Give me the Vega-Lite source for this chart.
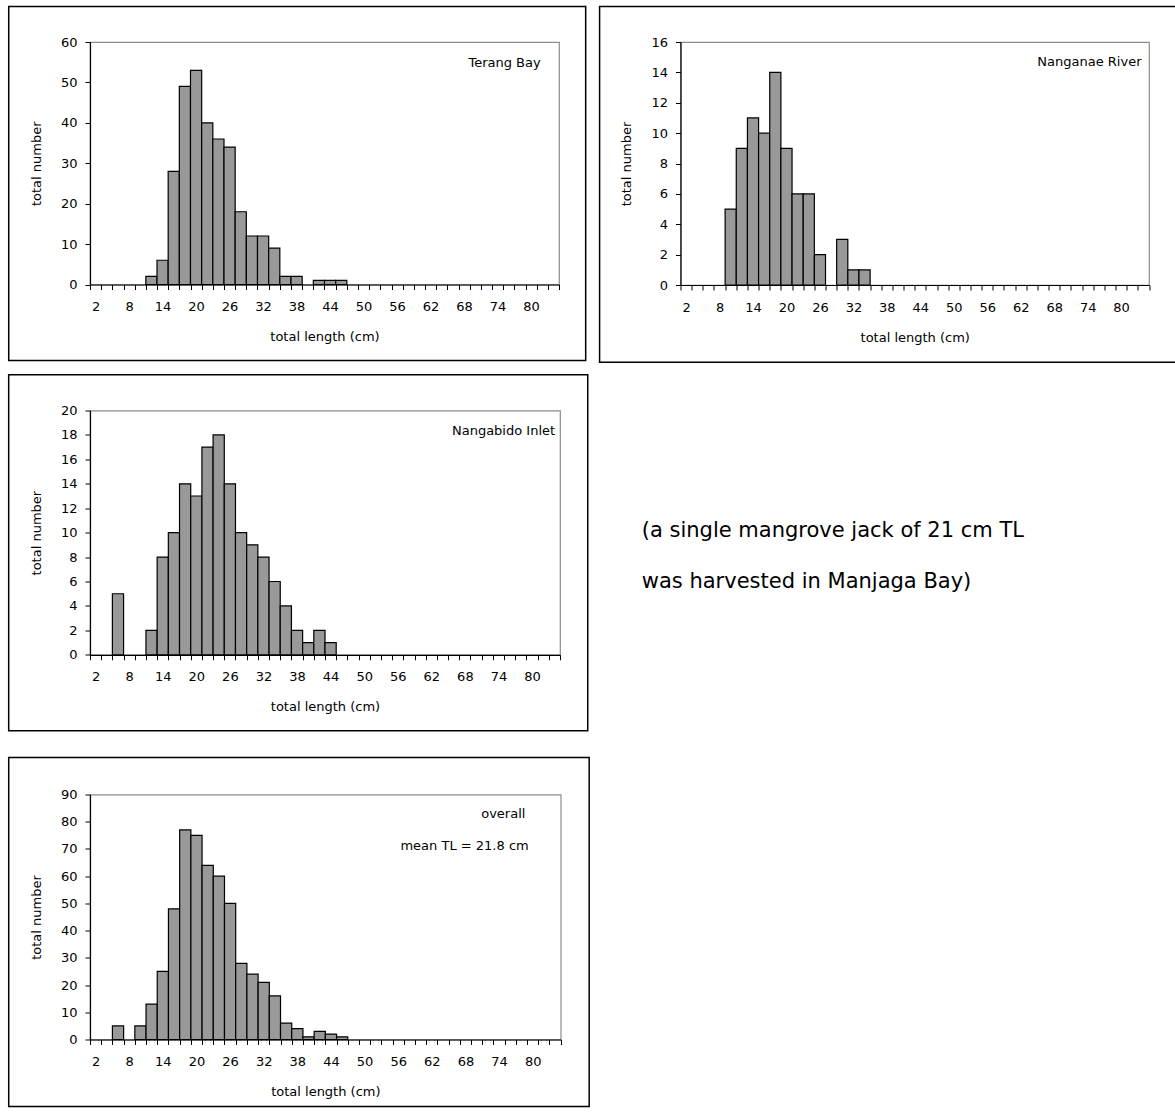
{
  "$schema": "https://vega.github.io/schema/vega-lite/v6.json",
  "padding": {"left": 7, "top": 5, "right": 0, "bottom": 2},
  "background": "white",
  "datasets": {
    "fish": [
      {"site": "Terang Bay", "length": 12, "count": 2},
      {"site": "Terang Bay", "length": 14, "count": 6},
      {"site": "Terang Bay", "length": 16, "count": 28},
      {"site": "Terang Bay", "length": 18, "count": 49},
      {"site": "Terang Bay", "length": 20, "count": 53},
      {"site": "Terang Bay", "length": 22, "count": 40},
      {"site": "Terang Bay", "length": 24, "count": 36},
      {"site": "Terang Bay", "length": 26, "count": 34},
      {"site": "Terang Bay", "length": 28, "count": 18},
      {"site": "Terang Bay", "length": 30, "count": 12},
      {"site": "Terang Bay", "length": 32, "count": 12},
      {"site": "Terang Bay", "length": 34, "count": 9},
      {"site": "Terang Bay", "length": 36, "count": 2},
      {"site": "Terang Bay", "length": 38, "count": 2},
      {"site": "Terang Bay", "length": 42, "count": 1},
      {"site": "Terang Bay", "length": 44, "count": 1},
      {"site": "Terang Bay", "length": 46, "count": 1},
      {"site": "Nanganae River", "length": 10, "count": 5},
      {"site": "Nanganae River", "length": 12, "count": 9},
      {"site": "Nanganae River", "length": 14, "count": 11},
      {"site": "Nanganae River", "length": 16, "count": 10},
      {"site": "Nanganae River", "length": 18, "count": 14},
      {"site": "Nanganae River", "length": 20, "count": 9},
      {"site": "Nanganae River", "length": 22, "count": 6},
      {"site": "Nanganae River", "length": 24, "count": 6},
      {"site": "Nanganae River", "length": 26, "count": 2},
      {"site": "Nanganae River", "length": 30, "count": 3},
      {"site": "Nanganae River", "length": 32, "count": 1},
      {"site": "Nanganae River", "length": 34, "count": 1},
      {"site": "Nangabido Inlet", "length": 6, "count": 5},
      {"site": "Nangabido Inlet", "length": 12, "count": 2},
      {"site": "Nangabido Inlet", "length": 14, "count": 8},
      {"site": "Nangabido Inlet", "length": 16, "count": 10},
      {"site": "Nangabido Inlet", "length": 18, "count": 14},
      {"site": "Nangabido Inlet", "length": 20, "count": 13},
      {"site": "Nangabido Inlet", "length": 22, "count": 17},
      {"site": "Nangabido Inlet", "length": 24, "count": 18},
      {"site": "Nangabido Inlet", "length": 26, "count": 14},
      {"site": "Nangabido Inlet", "length": 28, "count": 10},
      {"site": "Nangabido Inlet", "length": 30, "count": 9},
      {"site": "Nangabido Inlet", "length": 32, "count": 8},
      {"site": "Nangabido Inlet", "length": 34, "count": 6},
      {"site": "Nangabido Inlet", "length": 36, "count": 4},
      {"site": "Nangabido Inlet", "length": 38, "count": 2},
      {"site": "Nangabido Inlet", "length": 40, "count": 1},
      {"site": "Nangabido Inlet", "length": 42, "count": 2},
      {"site": "Nangabido Inlet", "length": 44, "count": 1},
      {"site": "overall", "length": 6, "count": 5},
      {"site": "overall", "length": 10, "count": 5},
      {"site": "overall", "length": 12, "count": 13},
      {"site": "overall", "length": 14, "count": 25},
      {"site": "overall", "length": 16, "count": 48},
      {"site": "overall", "length": 18, "count": 77},
      {"site": "overall", "length": 20, "count": 75},
      {"site": "overall", "length": 22, "count": 64},
      {"site": "overall", "length": 24, "count": 60},
      {"site": "overall", "length": 26, "count": 50},
      {"site": "overall", "length": 28, "count": 28},
      {"site": "overall", "length": 30, "count": 24},
      {"site": "overall", "length": 32, "count": 21},
      {"site": "overall", "length": 34, "count": 16},
      {"site": "overall", "length": 36, "count": 6},
      {"site": "overall", "length": 38, "count": 4},
      {"site": "overall", "length": 40, "count": 1},
      {"site": "overall", "length": 42, "count": 3},
      {"site": "overall", "length": 44, "count": 2},
      {"site": "overall", "length": 46, "count": 1}
    ]
  },
  "config": {
    "font": "DejaVu Sans",
    "view": {"stroke": "#8c8c8c", "strokeWidth": 1.2},
    "axis": {
      "labelFont": "DejaVu Sans", "labelFontSize": 13, "labelColor": "#000",
      "titleFont": "DejaVu Sans", "titleFontSize": 13, "titleFontWeight": "normal", "titleColor": "#000",
      "domainColor": "#000", "domainWidth": 1.2, "tickColor": "#000", "tickWidth": 1, "tickSize": 5, "grid": false
    },
    "axisX": {"labelPadding": 11, "titlePadding": 17, "labelAngle": 0, "labelOverlap": false, "labelFlush": false, "labelBound": false},
    "axisY": {"labelPadding": 8, "titlePadding": 17},
    "text": {"font": "DejaVu Sans", "fontSize": 13, "color": "#000"}
  },
  "spacing": 22.5,
  "vconcat": [
    {
      "spacing": 8.5,
      "vconcat": [
        {
          "spacing": 9.5,
          "hconcat": [
            {
              "width": 469, "height": 242.5,
              "resolve": {"scale": {"x": "independent", "y": "independent"}},
              "layer": [
                {
                  "data": {"name": "fish"},
                  "transform": [{"filter": "datum.site === 'Terang Bay'"}],
                  "mark": {"type": "bar", "fill": "#999999", "stroke": "#000", "strokeWidth": 1.2},
                  "encoding": {
                    "x": {"field": "length", "type": "ordinal",
                      "scale": {"domain": [2,4,6,8,10,12,14,16,18,20,22,24,26,28,30,32,34,36,38,40,42,44,46,48,50,52,54,56,58,60,62,64,66,68,70,72,74,76,78,80,82,84], "paddingInner": 0, "paddingOuter": 0},
                      "axis": {"title": "total length (cm)", "tickBand": "extent", "labelExpr": "(datum.value - 2) % 6 === 0 ? datum.label : ''"}},
                    "y": {"field": "count", "type": "quantitative", "scale": {"domain": [0, 60], "nice": false},
                      "axis": {"title": "total number", "values": [0,10,20,30,40,50,60]}}
                  }
                },
                {
                  "data": {"values": [{}]},
                  "layer": [
                    {
                      "mark": {"type": "rect", "filled": false, "stroke": "#000", "strokeWidth": 1.5},
                      "encoding": {
                        "x": {"datum": -0.1733, "type": "quantitative", "scale": {"domain": [0, 1], "nice": false, "zero": false}, "axis": null},
                        "x2": {"datum": 1.0569},
                        "y": {"datum": -0.3134, "type": "quantitative", "scale": {"domain": [0, 1], "nice": false, "zero": false}, "axis": null},
                        "y2": {"datum": 1.1464}
                      }
                    },
                    {
                      "mark": {"type": "text", "align": "right", "baseline": "middle"},
                      "encoding": {
                        "x": {"datum": 0.961, "type": "quantitative"},
                        "y": {"datum": 0.914, "type": "quantitative"},
                        "text": {"value": "Terang Bay"}
                      }
                    }
                  ]
                }
              ]
            },
            {
              "width": 468.5, "height": 243,
              "resolve": {"scale": {"x": "independent", "y": "independent"}},
              "layer": [
                {
                  "data": {"name": "fish"},
                  "transform": [{"filter": "datum.site === 'Nanganae River'"}],
                  "mark": {"type": "bar", "fill": "#999999", "stroke": "#000", "strokeWidth": 1.2},
                  "encoding": {
                    "x": {"field": "length", "type": "ordinal",
                      "scale": {"domain": [2,4,6,8,10,12,14,16,18,20,22,24,26,28,30,32,34,36,38,40,42,44,46,48,50,52,54,56,58,60,62,64,66,68,70,72,74,76,78,80,82,84], "paddingInner": 0, "paddingOuter": 0},
                      "axis": {"title": "total length (cm)", "tickBand": "extent", "labelExpr": "(datum.value - 2) % 6 === 0 ? datum.label : ''"}},
                    "y": {"field": "count", "type": "quantitative", "scale": {"domain": [0, 16], "nice": false},
                      "axis": {"title": "total number", "values": [0,2,4,6,8,10,12,14,16]}}
                  }
                },
                {
                  "data": {"values": [{}]},
                  "layer": [
                    {
                      "mark": {"type": "rect", "filled": false, "stroke": "#000", "strokeWidth": 1.5},
                      "encoding": {
                        "x": {"datum": -0.1727, "type": "quantitative", "scale": {"domain": [0, 1], "nice": false, "zero": false}, "axis": null},
                        "x2": {"datum": 1.062},
                        "y": {"datum": -0.318, "type": "quantitative", "scale": {"domain": [0, 1], "nice": false, "zero": false}, "axis": null},
                        "y2": {"datum": 1.146}
                      }
                    },
                    {
                      "mark": {"type": "text", "align": "right", "baseline": "middle"},
                      "encoding": {
                        "x": {"datum": 0.984, "type": "quantitative"},
                        "y": {"datum": 0.918, "type": "quantitative"},
                        "text": {"value": "Nanganae River"}
                      }
                    }
                  ]
                }
              ]
            }
          ]
        },
        {
          "width": 470, "height": 244.3,
          "resolve": {"scale": {"x": "independent", "y": "independent"}},
          "layer": [
            {
              "data": {"name": "fish"},
              "transform": [{"filter": "datum.site === 'Nangabido Inlet'"}],
              "mark": {"type": "bar", "fill": "#999999", "stroke": "#000", "strokeWidth": 1.2},
              "encoding": {
                "x": {"field": "length", "type": "ordinal",
                  "scale": {"domain": [2,4,6,8,10,12,14,16,18,20,22,24,26,28,30,32,34,36,38,40,42,44,46,48,50,52,54,56,58,60,62,64,66,68,70,72,74,76,78,80,82,84], "paddingInner": 0, "paddingOuter": 0},
                  "axis": {"title": "total length (cm)", "tickBand": "extent", "labelExpr": "(datum.value - 2) % 6 === 0 ? datum.label : ''"}},
                "y": {"field": "count", "type": "quantitative", "scale": {"domain": [0, 20], "nice": false},
                  "axis": {"title": "total number", "values": [0,2,4,6,8,10,12,14,16,18,20]}}
              }
            },
            {
              "data": {"values": [{}]},
              "layer": [
                {
                  "mark": {"type": "rect", "filled": false, "stroke": "#000", "strokeWidth": 1.5},
                  "encoding": {
                    "x": {"datum": -0.173, "type": "quantitative", "scale": {"domain": [0, 1], "nice": false, "zero": false}, "axis": null},
                    "x2": {"datum": 1.059},
                    "y": {"datum": -0.311, "type": "quantitative", "scale": {"domain": [0, 1], "nice": false, "zero": false}, "axis": null},
                    "y2": {"datum": 1.146}
                  }
                },
                {
                  "mark": {"type": "text", "align": "right", "baseline": "middle"},
                  "encoding": {
                    "x": {"datum": 0.9896, "type": "quantitative"},
                    "y": {"datum": 0.917, "type": "quantitative"},
                    "text": {"value": "Nangabido Inlet"}
                  }
                },
                {
                  "mark": {"type": "text", "align": "left", "baseline": "middle", "fontSize": 21},
                  "encoding": {
                    "x": {"datum": 1.174, "type": "quantitative"},
                    "y": {"datum": 0.505, "type": "quantitative"},
                    "text": {"value": "(a single mangrove jack of 21 cm TL"}
                  }
                },
                {
                  "mark": {"type": "text", "align": "left", "baseline": "middle", "fontSize": 21},
                  "encoding": {
                    "x": {"datum": 1.174, "type": "quantitative"},
                    "y": {"datum": 0.3, "type": "quantitative"},
                    "text": {"value": "was harvested in Manjaga Bay)"}
                  }
                }
              ]
            }
          ]
        }
      ]
    },
    {
      "width": 470.7, "height": 245,
      "resolve": {"scale": {"x": "independent", "y": "independent"}},
      "layer": [
        {
          "data": {"name": "fish"},
          "transform": [{"filter": "datum.site === 'overall'"}],
          "mark": {"type": "bar", "fill": "#999999", "stroke": "#000", "strokeWidth": 1.2},
          "encoding": {
            "x": {"field": "length", "type": "ordinal",
              "scale": {"domain": [2,4,6,8,10,12,14,16,18,20,22,24,26,28,30,32,34,36,38,40,42,44,46,48,50,52,54,56,58,60,62,64,66,68,70,72,74,76,78,80,82,84], "paddingInner": 0, "paddingOuter": 0},
              "axis": {"title": "total length (cm)", "tickBand": "extent", "labelExpr": "(datum.value - 2) % 6 === 0 ? datum.label : ''"}},
            "y": {"field": "count", "type": "quantitative", "scale": {"domain": [0, 90], "nice": false},
              "axis": {"title": "total number", "values": [0,10,20,30,40,50,60,70,80,90]}}
          }
        },
        {
          "data": {"values": [{}]},
          "layer": [
            {
              "mark": {"type": "rect", "filled": false, "stroke": "#000", "strokeWidth": 1.5},
              "encoding": {
                "x": {"datum": -0.1727, "type": "quantitative", "scale": {"domain": [0, 1], "nice": false, "zero": false}, "axis": null},
                "x2": {"datum": 1.0605},
                "y": {"datum": -0.2735, "type": "quantitative", "scale": {"domain": [0, 1], "nice": false, "zero": false}, "axis": null},
                "y2": {"datum": 1.151}
              }
            },
            {
              "mark": {"type": "text", "align": "right", "baseline": "middle"},
              "encoding": {
                "x": {"datum": 0.925, "type": "quantitative"},
                "y": {"datum": 0.922, "type": "quantitative"},
                "text": {"value": "overall"}
              }
            },
            {
              "mark": {"type": "text", "align": "right", "baseline": "middle"},
              "encoding": {
                "x": {"datum": 0.932, "type": "quantitative"},
                "y": {"datum": 0.788, "type": "quantitative"},
                "text": {"value": "mean TL = 21.8 cm"}
              }
            }
          ]
        }
      ]
    }
  ]
}
